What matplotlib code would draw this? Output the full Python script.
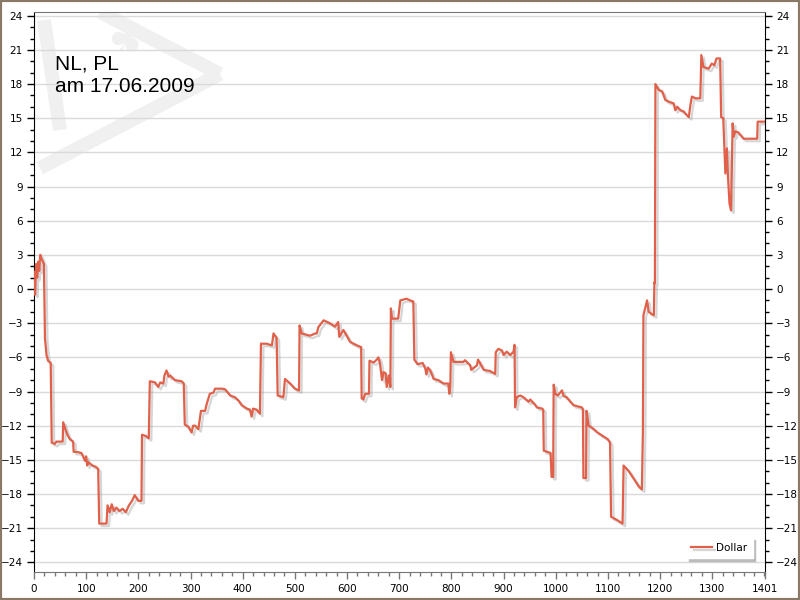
import matplotlib
matplotlib.use("Agg")
import matplotlib.pyplot as plt
import matplotlib.patheffects as pe
from matplotlib.lines import Line2D
from matplotlib.patches import Rectangle
from matplotlib.ticker import MultipleLocator, FixedLocator

# game number vs. result in dollar
games = [0, 2, 4, 6, 8, 10, 12, 15, 19, 21, 24, 27, 32, 34, 40, 43, 55, 56, 60, 64,
         69, 75, 76, 82, 91, 95, 98, 100, 102, 104, 112, 118, 123, 125, 139, 141, 145, 149, 153, 158,
         164, 170, 176, 182, 188, 193, 200, 206, 207, 214, 220, 222, 232, 238, 242, 248, 250, 254, 258, 261,
         270, 283, 287, 289, 296, 302, 305, 309, 315, 320, 328, 331, 337, 344, 347, 360, 366, 376, 385, 392,
         398, 408, 414, 417, 420, 427, 433, 435, 446, 456, 459, 465, 467, 478, 481, 491, 500, 508, 509, 513,
         529, 539, 542, 545, 555, 567, 577, 583, 585, 593, 606, 619, 627, 628, 631, 635, 642, 643, 651, 657,
         660, 663, 667, 670, 674, 676, 680, 683, 684, 686, 698, 702, 714, 721, 727, 729, 735, 745, 750, 752,
         755, 759, 766, 775, 785, 794, 796, 798, 799, 804, 823, 826, 836, 838, 849, 851, 862, 874, 884, 885,
         890, 897, 900, 906, 913, 919, 921, 922, 925, 932, 938, 948, 951, 961, 964, 974, 976, 977, 990, 992,
         995, 996, 999, 1004, 1012, 1015, 1021, 1028, 1034, 1050, 1052, 1053, 1058, 1059, 1063, 1070, 1080, 1090, 1100, 1104,
         1106, 1118, 1128, 1130, 1140, 1150, 1160, 1165, 1167, 1168, 1175, 1178, 1184, 1188, 1189, 1190, 1191, 1197, 1204, 1210,
         1217, 1226, 1229, 1233, 1239, 1245, 1251, 1255, 1258, 1261, 1268, 1277, 1279, 1283, 1293, 1299, 1304, 1308, 1315, 1317,
         1321, 1325, 1328, 1330, 1333, 1336, 1339, 1341, 1344, 1350, 1360, 1386, 1387, 1401]
dollar = [1.5, -0.5, 2.2, 1.0, 2.4, 1.6, 3.0, 2.6, 2.2, -4.3, -5.8, -6.3, -6.5, -13.5, -13.6, -13.4, -13.4, -11.7, -12.3, -12.8,
          -13.2, -13.4, -14.3, -14.3, -14.4, -14.8, -15.1, -14.7, -15.5, -15.2, -15.5, -15.6, -15.8, -20.6, -20.6, -19.0, -19.6, -18.9, -19.5, -19.2,
          -19.5, -19.3, -19.6, -19.0, -18.6, -18.1, -18.6, -18.6, -12.8, -12.9, -13.1, -8.1, -8.2, -8.6, -8.2, -8.3, -7.6, -7.15, -7.7, -7.6,
          -8.0, -8.1, -8.3, -11.9, -12.1, -12.6, -12.0, -12.0, -12.3, -10.7, -10.7, -10.1, -9.2, -9.1, -8.75, -8.75, -8.8, -9.35, -9.5, -9.8,
          -10.2, -10.5, -10.6, -11.2, -10.5, -10.6, -10.95, -4.8, -4.8, -4.95, -3.9, -4.3, -9.35, -9.5, -7.9, -8.3, -8.75, -8.9, -3.2, -3.9,
          -4.1, -3.9, -3.9, -3.35, -2.75, -3.0, -3.3, -2.9, -4.2, -3.6, -4.65, -4.95, -5.1, -9.6, -9.7, -9.2, -9.2, -6.3, -6.45, -6.2,
          -6.0, -6.5, -8.0, -7.3, -7.4, -8.6, -7.6, -8.6, -1.7, -2.6, -2.6, -1.0, -0.85, -1.0, -1.1, -6.2, -6.6, -6.5, -7.0, -7.5,
          -6.9, -7.1, -7.9, -8.0, -8.3, -8.3, -9.2, -8.3, -5.55, -6.4, -6.4, -6.25, -6.7, -7.1, -6.7, -6.2, -7.1, -7.2, -7.45, -5.55,
          -5.25, -5.4, -5.8, -5.5, -5.8, -5.5, -4.9, -10.4, -9.5, -9.35, -9.5, -9.9, -9.7, -10.2, -10.4, -10.5, -10.6, -14.2, -14.4, -16.5,
          -16.5, -8.4, -9.2, -9.35, -8.9, -9.4, -9.5, -9.9, -10.2, -10.4, -10.55, -16.6, -16.6, -10.7, -12.0, -12.2, -12.6, -12.9, -13.2, -13.5,
          -20.0, -20.3, -20.6, -15.5, -16.0, -16.7, -17.4, -17.6, -12.5, -2.3, -1.0, -2.0, -2.2, -2.3, 0.6, 0.5, 18.0, 17.5, 17.35, 16.6,
          16.45, 16.3, 15.7, 16.0, 15.7, 15.6, 15.27, 15.1, 16.15, 16.9, 16.75, 16.75, 20.55, 19.5, 19.35, 19.8, 19.65, 20.25, 20.25, 15.1,
          15.0, 10.15, 12.35, 9.9, 7.5, 6.9, 14.55, 13.4, 13.85, 13.75, 13.2, 13.2, 14.7, 14.7]

x_ticks = [0, 100, 200, 300, 400, 500, 600, 700, 800, 900, 1000, 1100, 1200, 1300, 1401]
y_ticks = list(range(-24, 25, 3))

line_col = '#E0604A'
wm_col = '#F0F0F0'

fig = plt.figure(figsize=(8, 6), dpi=100)
fig.patch.set_facecolor('white')
ax = fig.add_axes([34/800, 28/600, 731/800, 560/600])

def fp(px, py):
    return px/800, 1 - py/600

# watermark logo behind the grid
tf = fig.transFigure
for (a, b) in [((100, 12), (220, 74)), ((220, 74), (40, 168)), ((44, 20), (60, 130))]:
    (x0, y0), (x1, y1) = fp(*a), fp(*b)
    ax.add_artist(Line2D([x0, x1], [y0, y1], transform=tf, color=wm_col,
                         lw=10, solid_capstyle='butt', zorder=0.2))
cx, cy = fp(124, 42)
ax.text(cx, cy, '\u2663', transform=tf, fontsize=30, color=wm_col,
        ha='center', va='center', rotation=-25, zorder=0.2)

ln, = ax.plot(games, dollar, color=line_col, lw=1.6, label='Dollar', zorder=3)
ln.set_path_effects([pe.SimpleLineShadow(offset=(1.8, -1.8), shadow_color='#999999', alpha=0.4),
                     pe.Normal()])

ax.set_xlim(0, 1401)
ax.set_ylim(-24.85, 24.33)
ax.xaxis.set_major_locator(FixedLocator(x_ticks))
ax.xaxis.set_minor_locator(MultipleLocator(20))
ax.yaxis.set_major_locator(FixedLocator(y_ticks))
ax.yaxis.set_minor_locator(MultipleLocator(1))
ax.set_axisbelow(True)
ax.grid(axis='y', which='major', color='#DADADA', lw=1)

ax.tick_params(axis='y', which='both', left=True, right=True, labelleft=True, labelright=True,
               direction='out', colors='black', labelsize=7.5, pad=3)
ax.tick_params(axis='y', which='major', length=5, width=1)
ax.tick_params(axis='y', which='minor', length=3, width=1)
ax.tick_params(axis='x', which='both', direction='out', color='#777777', labelcolor='black',
               labelsize=7.5, pad=4)
ax.tick_params(axis='x', which='major', length=5, width=1)
ax.tick_params(axis='x', which='minor', length=3, width=1)

for s in ['left', 'right']:
    ax.spines[s].set_color('black')
for s in ['top', 'bottom']:
    ax.spines[s].set_color('#777777')

ax.text(21/731, 1 - 42/560, 'NL, PL\nam 17.06.2009', transform=ax.transAxes,
        fontsize=15, family='Liberation Sans', va='top', ha='left', linespacing=1.3)

ax.legend(loc='lower right', bbox_to_anchor=(0.983, 0.025), borderaxespad=0, frameon=True,
          fancybox=False, edgecolor='white', shadow={'color': '#BBBBBB', 'alpha': 1},
          fontsize=7.5, handlelength=2.0, handletextpad=0.4, borderpad=0.5)

fig.add_artist(Rectangle((0, 0), 1, 1, transform=fig.transFigure, fill=False,
                         edgecolor='#8C7866', lw=3, clip_on=False))

fig.savefig('out.png', dpi=100)
